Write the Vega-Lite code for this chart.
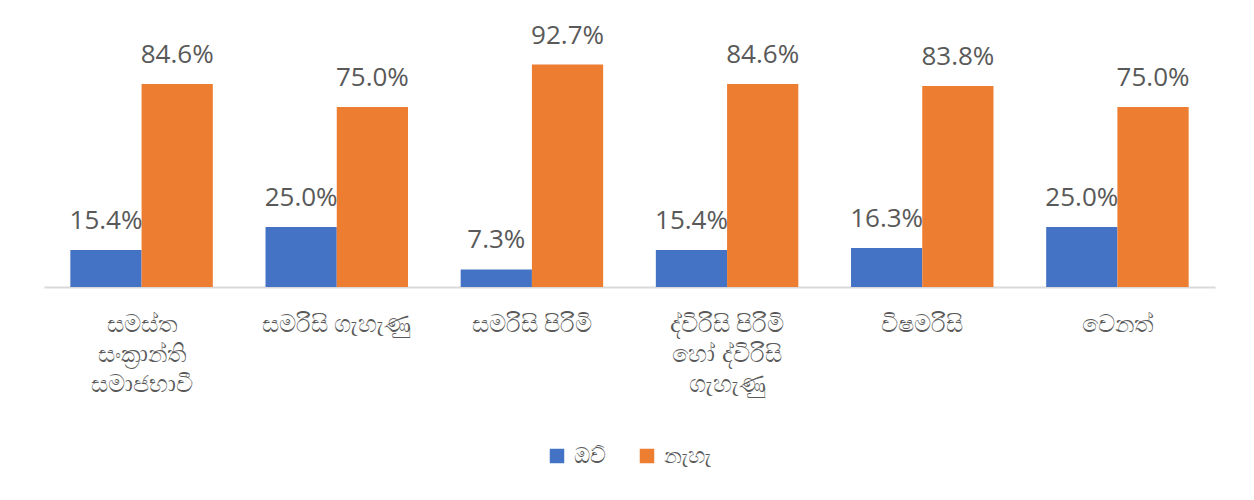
{
  "$schema": "https://vega.github.io/schema/vega-lite/v6.json",
  "autosize": "none",
  "width": 1171,
  "height": 240,
  "padding": {"left": 44, "top": 47, "right": 39, "bottom": 213},
  "background": "white",
  "config": {"view": {"stroke": null}, "font": "Open Sans"},
  "data": {
    "values": [
      {"category": "සමස්ත\nසංක්‍රාන්ති\nසමාජභාවී", "series": "ඔව්", "value": 0.154},
      {"category": "සමස්ත\nසංක්‍රාන්ති\nසමාජභාවී", "series": "නැහැ", "value": 0.846},
      {"category": "සමරිසි ගැහැණු", "series": "ඔව්", "value": 0.25},
      {"category": "සමරිසි ගැහැණු", "series": "නැහැ", "value": 0.75},
      {"category": "සමරිසි පිරිමි", "series": "ඔව්", "value": 0.073},
      {"category": "සමරිසි පිරිමි", "series": "නැහැ", "value": 0.927},
      {"category": "ද්විරිසි පිරිමි\nහෝ ද්විරිසි\nගැහැණු", "series": "ඔව්", "value": 0.154},
      {"category": "ද්විරිසි පිරිමි\nහෝ ද්විරිසි\nගැහැණු", "series": "නැහැ", "value": 0.846},
      {"category": "විෂමරිසි", "series": "ඔව්", "value": 0.163},
      {"category": "විෂමරිසි", "series": "නැහැ", "value": 0.838},
      {"category": "වෙනත්", "series": "ඔව්", "value": 0.25},
      {"category": "වෙනත්", "series": "නැහැ", "value": 0.75}
    ]
  },
  "encoding": {
    "x": {
      "field": "category",
      "type": "nominal",
      "sort": null,
      "scale": {"paddingInner": 0.27, "paddingOuter": 0.135},
      "axis": {
        "title": null,
        "labelAngle": 0,
        "labelExpr": "split(datum.label, '\\n')",
        "labelFontSize": 24,
        "labelLineHeight": 30,
        "labelColor": "#595959",
        "labelPadding": 25,
        "labelBaseline": "top",
        "ticks": false,
        "domainColor": "#d9d9d9",
        "domainWidth": 2
      }
    },
    "xOffset": {"field": "series", "type": "nominal", "sort": ["ඔව්", "නැහැ"], "scale": {"paddingInner": 0}},
    "y": {
      "field": "value",
      "type": "quantitative",
      "scale": {"domain": [0, 1]},
      "axis": null
    }
  },
  "layer": [
    {
      "mark": {"type": "bar"},
      "encoding": {
        "color": {
          "field": "series",
          "type": "nominal",
          "sort": ["ඔව්", "නැහැ"],
          "scale": {"domain": ["ඔව්", "නැහැ"], "range": ["#4472C4", "#ED7D31"]},
          "legend": {
            "title": null,
            "orient": "none",
            "direction": "horizontal",
            "legendX": 502,
            "legendY": 398,
            "symbolType": "square",
            "symbolSize": 210,
            "symbolStrokeWidth": 0,
            "labelFontSize": 22,
            "labelColor": "#595959",
            "columnPadding": 30,
            "labelOffset": 6
          }
        }
      }
    },
    {
      "mark": {"type": "text", "baseline": "alphabetic", "dy": -21, "fontSize": 26, "color": "#595959"},
      "encoding": {
        "text": {"field": "value", "type": "quantitative", "format": ".1%"},
        "detail": {"field": "series"}
      }
    }
  ]
}
